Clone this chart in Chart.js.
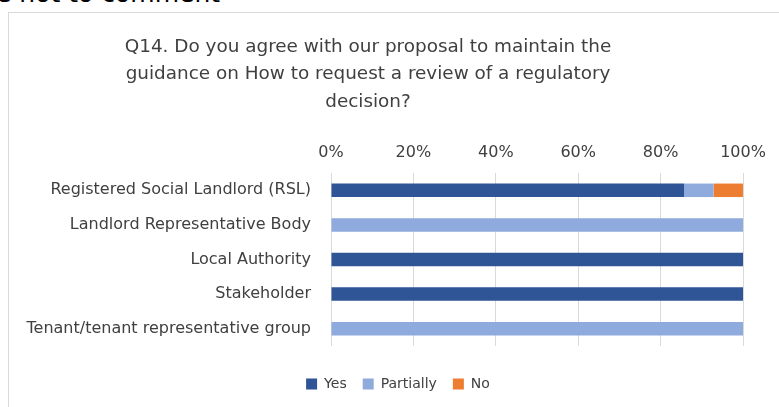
<!DOCTYPE html>
<html>
<head>
<meta charset="utf-8">
<script src="https://cdn.jsdelivr.net/npm/chart.js@4.4.1/dist/chart.umd.min.js"></script>
<style>
  html, body { margin: 0; padding: 0; background: #fff; }
  #wrap { position: relative; width: 779px; height: 407px; overflow: hidden; }
  #above { position: absolute; left: -4px; top: -21px; font: 25px "DejaVu Sans", sans-serif; line-height: 30px; color: #000; white-space: nowrap; }
  #frame { position: absolute; left: 8px; top: 12px; width: 800px; height: 420px; border: 1px solid #d9d9d9; box-sizing: border-box; }
  canvas { position: absolute; left: 0; top: 0; }
</style>
</head>
<body>
<div id="wrap">
  <div id="above">e not to comment</div>
  <div id="frame"></div>
  <canvas id="c" width="779" height="407"></canvas>
</div>
<script>
const titleLines = [
  'Q14. Do you agree with our proposal to maintain the',
  'guidance on How to request a review of a regulatory',
  'decision?'
];
const categories = [
  'Registered Social Landlord (RSL)',
  'Landlord Representative Body',
  'Local Authority',
  'Stakeholder',
  'Tenant/tenant representative group'
];
const yesValues = [85.71, 0, 100, 100, 0];
const partiallyValues = [7.14, 100, 0, 0, 100];
const noValues = [7.14, 0, 0, 0, 0];
const tickValues = [0, 20, 40, 60, 80, 100];

const FONT = '"DejaVu Sans", sans-serif';
const TEXT = '#404040';
const TITLE_CENTER_X = 368;
const LEGEND_CENTER_X = 398;
const LEGEND_DROP = 15;

// Multi-line title centred over the left part of the frame
const titlePlugin = {
  id: 'titleLines',
  afterDraw(chart) {
    const ctx = chart.ctx;
    ctx.save();
    ctx.fillStyle = TEXT;
    ctx.font = '18.4px ' + FONT;
    ctx.textAlign = 'center';
    ctx.textBaseline = 'middle';
    titleLines.forEach((t, i) => ctx.fillText(t, TITLE_CENTER_X, 47 + i * 27.5));
    ctx.restore();
  }
};

// Slide the legend box under the plot's middle and a little lower
const legendShift = {
  id: 'legendShift',
  afterLayout(chart) {
    const lg = chart.legend;
    if (!lg) return;
    const dx = LEGEND_CENTER_X - (lg.left + lg.right) / 2;
    lg.left += dx;
    lg.right += dx;
    lg.top += LEGEND_DROP;
    lg.bottom += LEGEND_DROP;
  }
};

new Chart(document.getElementById('c'), {
  type: 'bar',
  data: {
    labels: categories,
    datasets: [
      { label: 'Yes', data: yesValues, backgroundColor: '#2F5597' },
      { label: 'Partially', data: partiallyValues, backgroundColor: '#8FAADC' },
      { label: 'No', data: noValues, backgroundColor: '#ED7D31' }
    ]
  },
  options: {
    indexAxis: 'y',
    responsive: false,
    animation: false,
    layout: { padding: { left: 10, right: 36, top: 133, bottom: 21 } },
    datasets: { bar: { categoryPercentage: 1, barPercentage: 0.39 } },
    scales: {
      x: {
        position: 'top',
        stacked: true,
        min: 0,
        max: 100,
        afterBuildTicks(scale) { scale.ticks = tickValues.map(v => ({ value: v })); },
        afterFit(scale) { scale.height = 40; },
        grid: { color: '#d9d9d9', drawTicks: false },
        border: { display: false },
        ticks: {
          padding: 11,
          color: TEXT,
          font: { family: FONT, size: 16 },
          callback: v => v + '%'
        }
      },
      y: {
        stacked: true,
        afterFit(scale) { scale.width = 321; },
        grid: { display: false, drawTicks: false },
        border: { display: false },
        ticks: { padding: 20, color: TEXT, font: { family: FONT, size: 16 } }
      }
    },
    plugins: {
      legend: {
        position: 'bottom',
        labels: {
          boxWidth: 11,
          boxHeight: 11,
          padding: 16,
          color: TEXT,
          font: { family: FONT, size: 14 }
        }
      },
      tooltip: { enabled: false }
    }
  },
  plugins: [titlePlugin, legendShift]
});
</script>
</body>
</html>
